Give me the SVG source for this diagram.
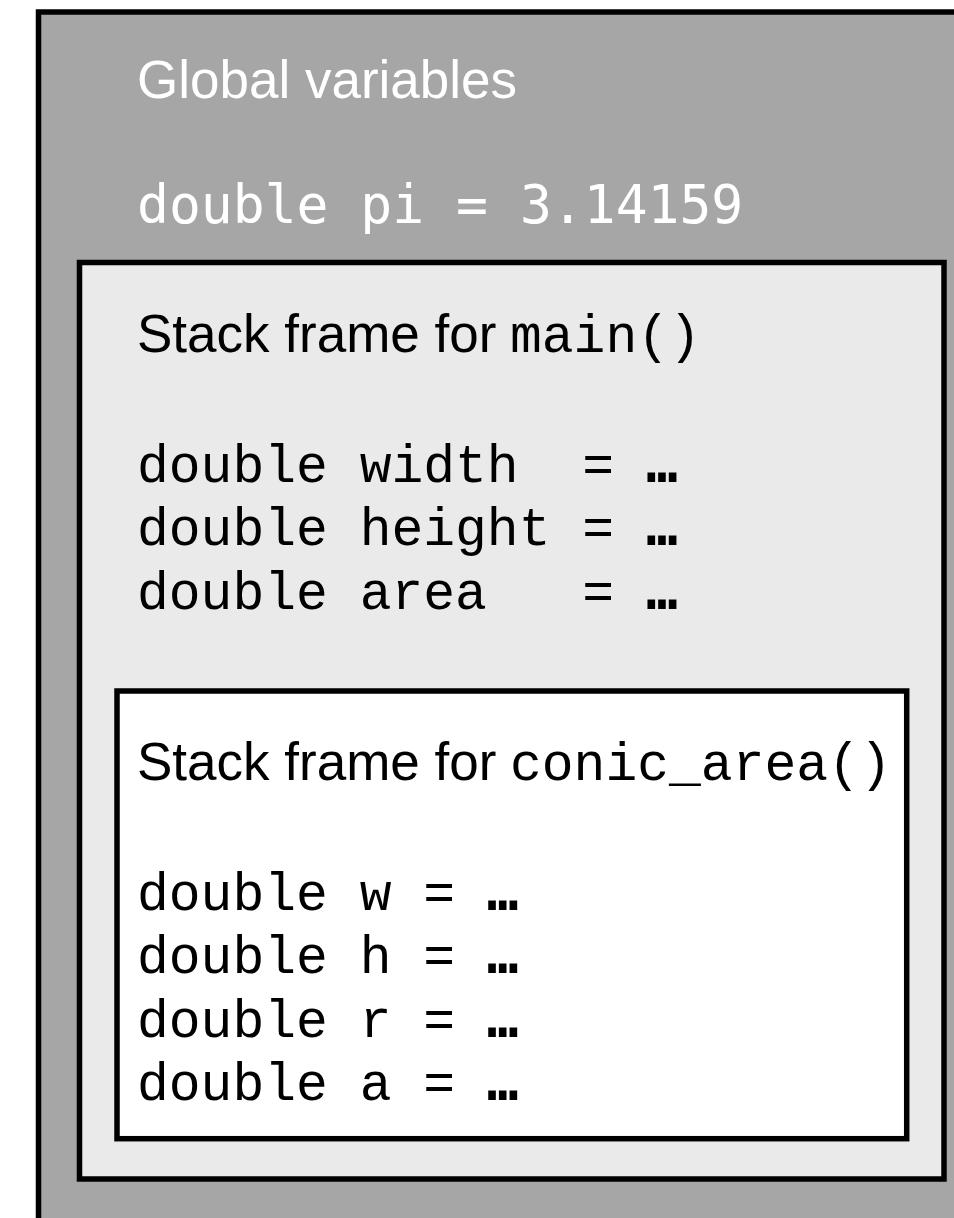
<svg xmlns="http://www.w3.org/2000/svg" width="954" height="1218" viewBox="0 0 954 1218">
  <style>
    .frame { stroke: #000; stroke-width: 5.5; }
    .label { font-family: "Liberation Sans", Arial, sans-serif; font-size: 53px; }
    .code { font-family: "Liberation Mono", "Courier New", monospace; font-size: 53px; white-space: pre; }
    .gcode { font-family: "DejaVu Sans Mono", Menlo, monospace; font-size: 53px; white-space: pre; }
    .dots { font-family: "DejaVu Sans Mono", monospace; font-weight: bold; }
    .ink { fill: #000; }
    .light { fill: #fff; }
  </style>
  <rect width="954" height="1218" fill="#fff"/>

  <!-- global scope -->
  <g id="globals">
    <rect class="frame" x="38.5" y="12" width="940" height="1230" fill="#a6a6a6"/>
    <text class="label light" x="137" y="98">Global variables</text>
    <text class="gcode light" x="137" y="223">double pi = 3.14159</text>
  </g>

  <!-- main() stack frame -->
  <g id="frame-main">
    <rect class="frame" x="79.5" y="262.5" width="864.5" height="916.5" fill="#eaeaea"/>
    <text class="label ink" x="137" y="352">Stack frame for <tspan class="code" x="510">main()</tspan></text>
    <text class="code ink" x="137" y="482">double width  = <tspan class="dots">…</tspan></text>
    <text class="code ink" x="137" y="545">double height = <tspan class="dots">…</tspan></text>
    <text class="code ink" x="137" y="609">double area   = <tspan class="dots">…</tspan></text>
  </g>

  <!-- conic_area() stack frame -->
  <g id="frame-conic">
    <rect class="frame" x="117" y="691" width="789.7" height="447.7" fill="#fff"/>
    <text class="label ink" x="137" y="780">Stack frame for <tspan class="code" x="510">conic_area()</tspan></text>
    <text class="code ink" x="137" y="910">double w = <tspan class="dots">…</tspan></text>
    <text class="code ink" x="137" y="973">double h = <tspan class="dots">…</tspan></text>
    <text class="code ink" x="137" y="1037">double r = <tspan class="dots">…</tspan></text>
    <text class="code ink" x="137" y="1100">double a = <tspan class="dots">…</tspan></text>
  </g>

  <g id="connectors"/>
</svg>
